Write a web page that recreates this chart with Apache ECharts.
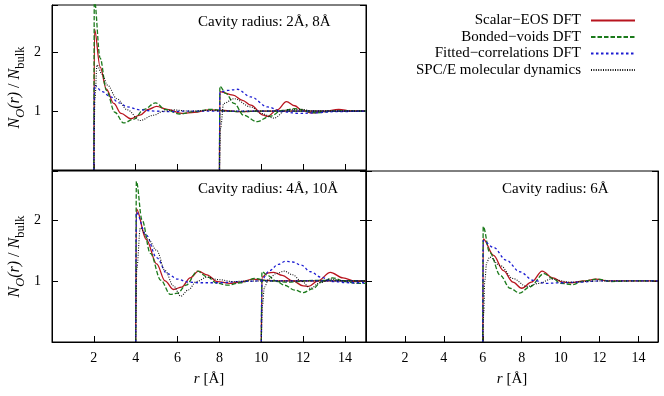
<!DOCTYPE html>
<html>
<head>
<meta charset="utf-8">
<script src="https://cdn.jsdelivr.net/npm/echarts@6/dist/echarts.min.js"></script>
<style>
  html, body { margin: 0; padding: 0; background: #fff; }
  #chart { width: 664px; height: 396px; }
</style>
</head>
<body>
<div id="chart"></div>
<script>
// [r in Å, N_O(r)/N_bulk]; one list per method and cavity radius
const scalar2 = [[2,0],[2.03,2.39],[2.3,1.75],[2.6,1.37],[2.95,1.13],[3.3,0.96],[3.75,0.87],[4.2,0.93],[4.6,1.03],[5.0,1.08],[5.5,1.03],[6.2,0.96],[6.8,0.98],[7.5,1.02],[8.2,1.01],[9,0.99],[10,1.0],[15,1.0]];
const bonded2 = [[2,0],[2.02,2.9],[2.3,1.9],[2.6,1.35],[3.0,0.98],[3.42,0.8],[3.9,0.86],[4.4,1.03],[4.95,1.14],[5.4,1.03],[6.1,0.95],[6.8,0.99],[7.6,1.03],[8.3,1.0],[9,0.99],[10,1.0],[15,1.0]];
const fitted2 = [[2,0],[2.03,1.44],[2.4,1.33],[2.8,1.24],[3.2,1.14],[3.6,1.07],[4.2,1.02],[4.9,1.0],[5.5,0.99],[6.5,1.0],[15,1.0]];
const md2 = [[2,0],[2.05,1.2],[2.15,1.78],[2.4,1.62],[2.65,1.44],[3.1,1.21],[3.6,1.02],[4.2,0.84],[4.85,0.93],[5.35,1.0],[5.8,1.02],[6.5,1.0],[7.5,1.01],[8.5,1.0],[15,1.0]];

const scalar8 = [[8,0],[8.02,1.33],[8.65,1.27],[9.1,1.18],[9.5,1.1],[10.1,0.93],[10.3,0.91],[10.75,1.02],[11.2,1.16],[11.6,1.09],[11.9,1.02],[12.4,0.97],[13.0,0.99],[13.7,1.03],[14.3,1.0],[15,1.0]];
const bonded8 = [[8,0],[8.02,1.42],[8.3,1.3],[8.7,1.13],[9.15,0.93],[9.8,0.82],[10.4,0.91],[11.0,1.01],[11.6,1.04],[12.6,0.97],[13.5,1.0],[15,1.0]];
const fitted8 = [[8,0],[8.02,1.32],[8.4,1.35],[8.85,1.37],[9.5,1.24],[10.3,1.07],[11.0,0.99],[11.8,0.96],[12.6,0.97],[13.5,0.99],[15,1.0]];
const md8 = [[8,0],[8.05,0.7],[8.2,1.13],[8.7,1.21],[9.5,1.07],[10.0,0.96],[10.6,0.88],[11.2,1.02],[11.9,1.03],[12.5,1.0],[15,1.0]];

const scalar4 = [[4,0],[4.03,2.18],[4.5,1.68],[5.0,1.28],[5.4,1.0],[5.8,0.86],[6.2,0.9],[6.6,1.05],[7.0,1.16],[7.4,1.1],[7.9,0.99],[8.5,0.96],[9.0,0.98],[9.6,1.03],[10.2,1.01],[11,1.0],[12,1.0],[15,1.0]];
const bonded4 = [[4,0],[4.03,2.63],[4.3,2.0],[4.7,1.45],[5.2,1.01],[5.65,0.78],[6.0,0.8],[6.4,0.93],[6.95,1.16],[7.4,1.07],[7.9,0.96],[8.4,0.93],[9.0,0.97],[9.7,1.04],[10.3,1.0],[11.3,0.98],[12.5,1.01],[15,1.0]];
const fitted4 = [[4,0],[4.03,2.12],[4.5,1.75],[5.0,1.38],[5.5,1.12],[6.0,1.03],[6.5,0.98],[7.0,0.97],[8.0,0.97],[9,0.99],[10,1.0],[15,1.0]];
const md4 = [[4,0],[4.05,1.2],[4.22,1.87],[4.6,1.68],[5.0,1.5],[5.4,1.17],[5.8,0.92],[6.15,0.75],[6.5,0.85],[6.9,0.99],[7.4,1.06],[8.0,1.02],[8.6,0.99],[9.5,1.0],[10.5,1.0],[15,1.0]];

const scalar10 = [[10,0],[10.03,1.06],[10.3,1.13],[10.6,1.14],[11.0,1.09],[11.5,1.0],[12.0,0.92],[12.25,0.91],[12.7,1.0],[13.3,1.14],[13.9,1.05],[14.5,0.99],[15,1.0]];
const bonded10 = [[10,0],[10.03,1.15],[10.3,1.09],[10.7,1.0],[11.1,0.93],[11.6,0.85],[12.0,0.81],[12.45,0.87],[12.9,0.99],[13.4,1.05],[14.0,0.99],[14.5,0.96],[15,0.96]];
const fitted10 = [[10,0],[10.03,1.03],[10.4,1.17],[10.8,1.27],[11.15,1.32],[11.5,1.31],[11.9,1.26],[12.35,1.15],[12.85,1.06],[13.4,0.99],[14.2,0.97],[15,0.97]];
const md10 = [[10,0],[10.05,0.6],[10.15,0.9],[10.35,1.03],[10.7,1.12],[11.1,1.16],[11.5,1.1],[11.9,1.0],[12.35,0.88],[12.8,0.97],[13.3,1.03],[14,1.0],[15,1.0]];

const scalar6 = [[6,0],[6.02,1.69],[6.55,1.42],[7.06,1.17],[7.55,0.98],[8.0,0.88],[8.5,0.98],[9.05,1.16],[9.6,1.05],[10.1,0.98],[10.5,0.97],[11.2,1.0],[11.8,1.03],[12.5,1.0],[13.5,1.0],[15,1.0]];
const bonded6 = [[6,0],[6.02,1.89],[6.35,1.47],[6.9,1.09],[7.4,0.88],[7.9,0.8],[8.4,0.9],[9.15,1.12],[9.6,1.04],[10.0,0.96],[10.6,0.94],[11.2,1.0],[11.9,1.03],[12.6,0.99],[13.5,1.0],[15,1.0]];
const fitted6 = [[6,0],[6.02,1.66],[6.55,1.55],[7.2,1.34],[7.9,1.15],[8.6,1.01],[9.25,0.96],[10,0.97],[11,0.98],[12,1.0],[15,1.0]];
const md6 = [[6,0],[6.05,0.5],[6.1,1.0],[6.2,1.3],[6.35,1.39],[6.9,1.25],[7.55,1.04],[8.25,0.91],[8.9,0.96],[9.5,1.03],[10.5,0.98],[12,1.0],[15,1.0]];

const methods = ["Scalar\u2212EOS DFT", "Bonded\u2212voids DFT", "Fitted\u2212correlations DFT", "SPC/E molecular dynamics"];
const panelTitles = ["Cavity radius: 2Å, 8Å", "Cavity radius: 4Å, 10Å", "Cavity radius: 6Å"];
const xTicks = [2, 4, 6, 8, 10, 12, 14];
const yTicks = [1, 2];

// each panel holds one or two cavities, each cavity the four methods
const panels = [
  [[scalar2, bonded2, fitted2, md2], [scalar8, bonded8, fitted8, md8]],
  [[scalar4, bonded4, fitted4, md4], [scalar10, bonded10, fitted10, md10]],
  [[scalar6, bonded6, fitted6, md6]]
];

const FONT = "Liberation Serif";
const lineStyles = [
  { color: "#b8141e", width: 1.3, type: "solid" },
  { color: "#1b7a1b", width: 1.3, type: [4.5, 2] },
  { color: "#1c1cd2", width: 1.3, type: [2.5, 2.5] },
  { color: "#111", width: 1.1, type: [1, 1.4] }
];

const grids = [
  { left: 52, top: 5, width: 314, height: 165 },
  { left: 52, top: 171, width: 314, height: 171 },
  { left: 366, top: 171, width: 292, height: 171 }
];

const tickStyle = { inside: true, length: 6, lineStyle: { color: "#000", width: 1 } };
const axisLine = { show: true, lineStyle: { color: "#000", width: 1 } };

const xAxes = grids.map((g, i) => ({
  type: "value",
  gridIndex: i,
  min: 0,
  max: 15,
  interval: 2,
  axisLine,
  axisTick: tickStyle,
  splitLine: { show: false },
  axisLabel: {
    show: i > 0,
    margin: 9,
    color: "#000",
    fontFamily: FONT,
    fontSize: 14,
    formatter: v => (xTicks.includes(v) ? String(v) : "")
  },
  name: i > 0 ? "{i|r} [Å]" : "",
  nameLocation: "middle",
  nameGap: 30,
  nameTextStyle: {
    color: "#000",
    fontFamily: FONT,
    fontSize: 15,
    rich: { i: { fontStyle: "italic", fontFamily: FONT, fontSize: 15, color: "#000" } }
  }
}));

const yAxes = [];
grids.forEach((g, i) => {
  yAxes.push({
    type: "value",
    gridIndex: i,
    min: 0,
    max: 2.8,
    interval: 1,
    position: "left",
    axisLine,
    axisTick: tickStyle,
    splitLine: { show: false },
    axisLabel: {
      show: i < 2,
      margin: 11,
      color: "#000",
      fontFamily: FONT,
      fontSize: 14,
      formatter: v => (yTicks.includes(v) ? String(v) : "")
    },
    name: i < 2 ? "{i|N}{si|O}{i|(r)}{n| / }{i|N}{s|bulk}" : "",
    nameLocation: "middle",
    nameGap: 25,
    nameTextStyle: {
      color: "#000",
      fontFamily: FONT,
      fontSize: 16,
      rich: {
        i: { fontStyle: "italic", fontFamily: FONT, fontSize: 16, lineHeight: 20, verticalAlign: "top", color: "#000" },
        n: { fontFamily: FONT, fontSize: 16, lineHeight: 20, verticalAlign: "top", color: "#000" },
        si: { fontStyle: "italic", fontFamily: FONT, fontSize: 12.5, lineHeight: 10, verticalAlign: "bottom", color: "#000" },
        s: { fontFamily: FONT, fontSize: 12.5, lineHeight: 10, verticalAlign: "bottom", color: "#000" }
      }
    }
  });
});
// mirrored ticks on the right edge of every panel
grids.forEach((g, i) => {
  yAxes.push({
    type: "value",
    gridIndex: i,
    min: 0,
    max: 2.8,
    interval: 1,
    position: "right",
    axisLine,
    axisTick: tickStyle,
    splitLine: { show: false },
    axisLabel: { show: false }
  });
});

const series = [];
panels.forEach((cavities, p) => {
  cavities.forEach(set => {
    set.forEach((data, m) => {
      series.push({
        name: methods[m],
        type: "line",
        xAxisIndex: p,
        yAxisIndex: p,
        data,
        symbol: "none",
        smooth: 0.35,
        smoothMonotone: "x",
        lineStyle: lineStyles[m],
        itemStyle: { color: lineStyles[m].color },
        z: 2 + m
      });
    });
  });
});

const chart = echarts.init(document.getElementById("chart"), null, { renderer: "canvas" });
chart.setOption({
  animation: false,
  backgroundColor: "#fff",
  title: [
    { text: panelTitles[0], left: 198, top: 15 },
    { text: panelTitles[1], left: 198, top: 182 },
    { text: panelTitles[2], left: 502, top: 182 }
  ].map(t => ({
    ...t,
    padding: 0,
    textStyle: { fontFamily: FONT, fontSize: 15, fontWeight: "normal", color: "#000" }
  })),
  legend: {
    data: methods,
    orient: "vertical",
    align: "right",
    right: 28,
    top: 13,
    padding: 0,
    itemWidth: 44,
    itemHeight: 14,
    itemGap: 1.5,
    selectedMode: false,
    itemStyle: { opacity: 0, borderWidth: 0 },
    textStyle: { fontFamily: FONT, fontSize: 15, color: "#000", lineHeight: 14, padding: [0, 5, 0, 0] }
  },
  grid: grids.map(g => ({ ...g, show: true, borderColor: "#000", borderWidth: 1, backgroundColor: "transparent" })),
  xAxis: xAxes,
  yAxis: yAxes,
  series
});
</script>
</body>
</html>
